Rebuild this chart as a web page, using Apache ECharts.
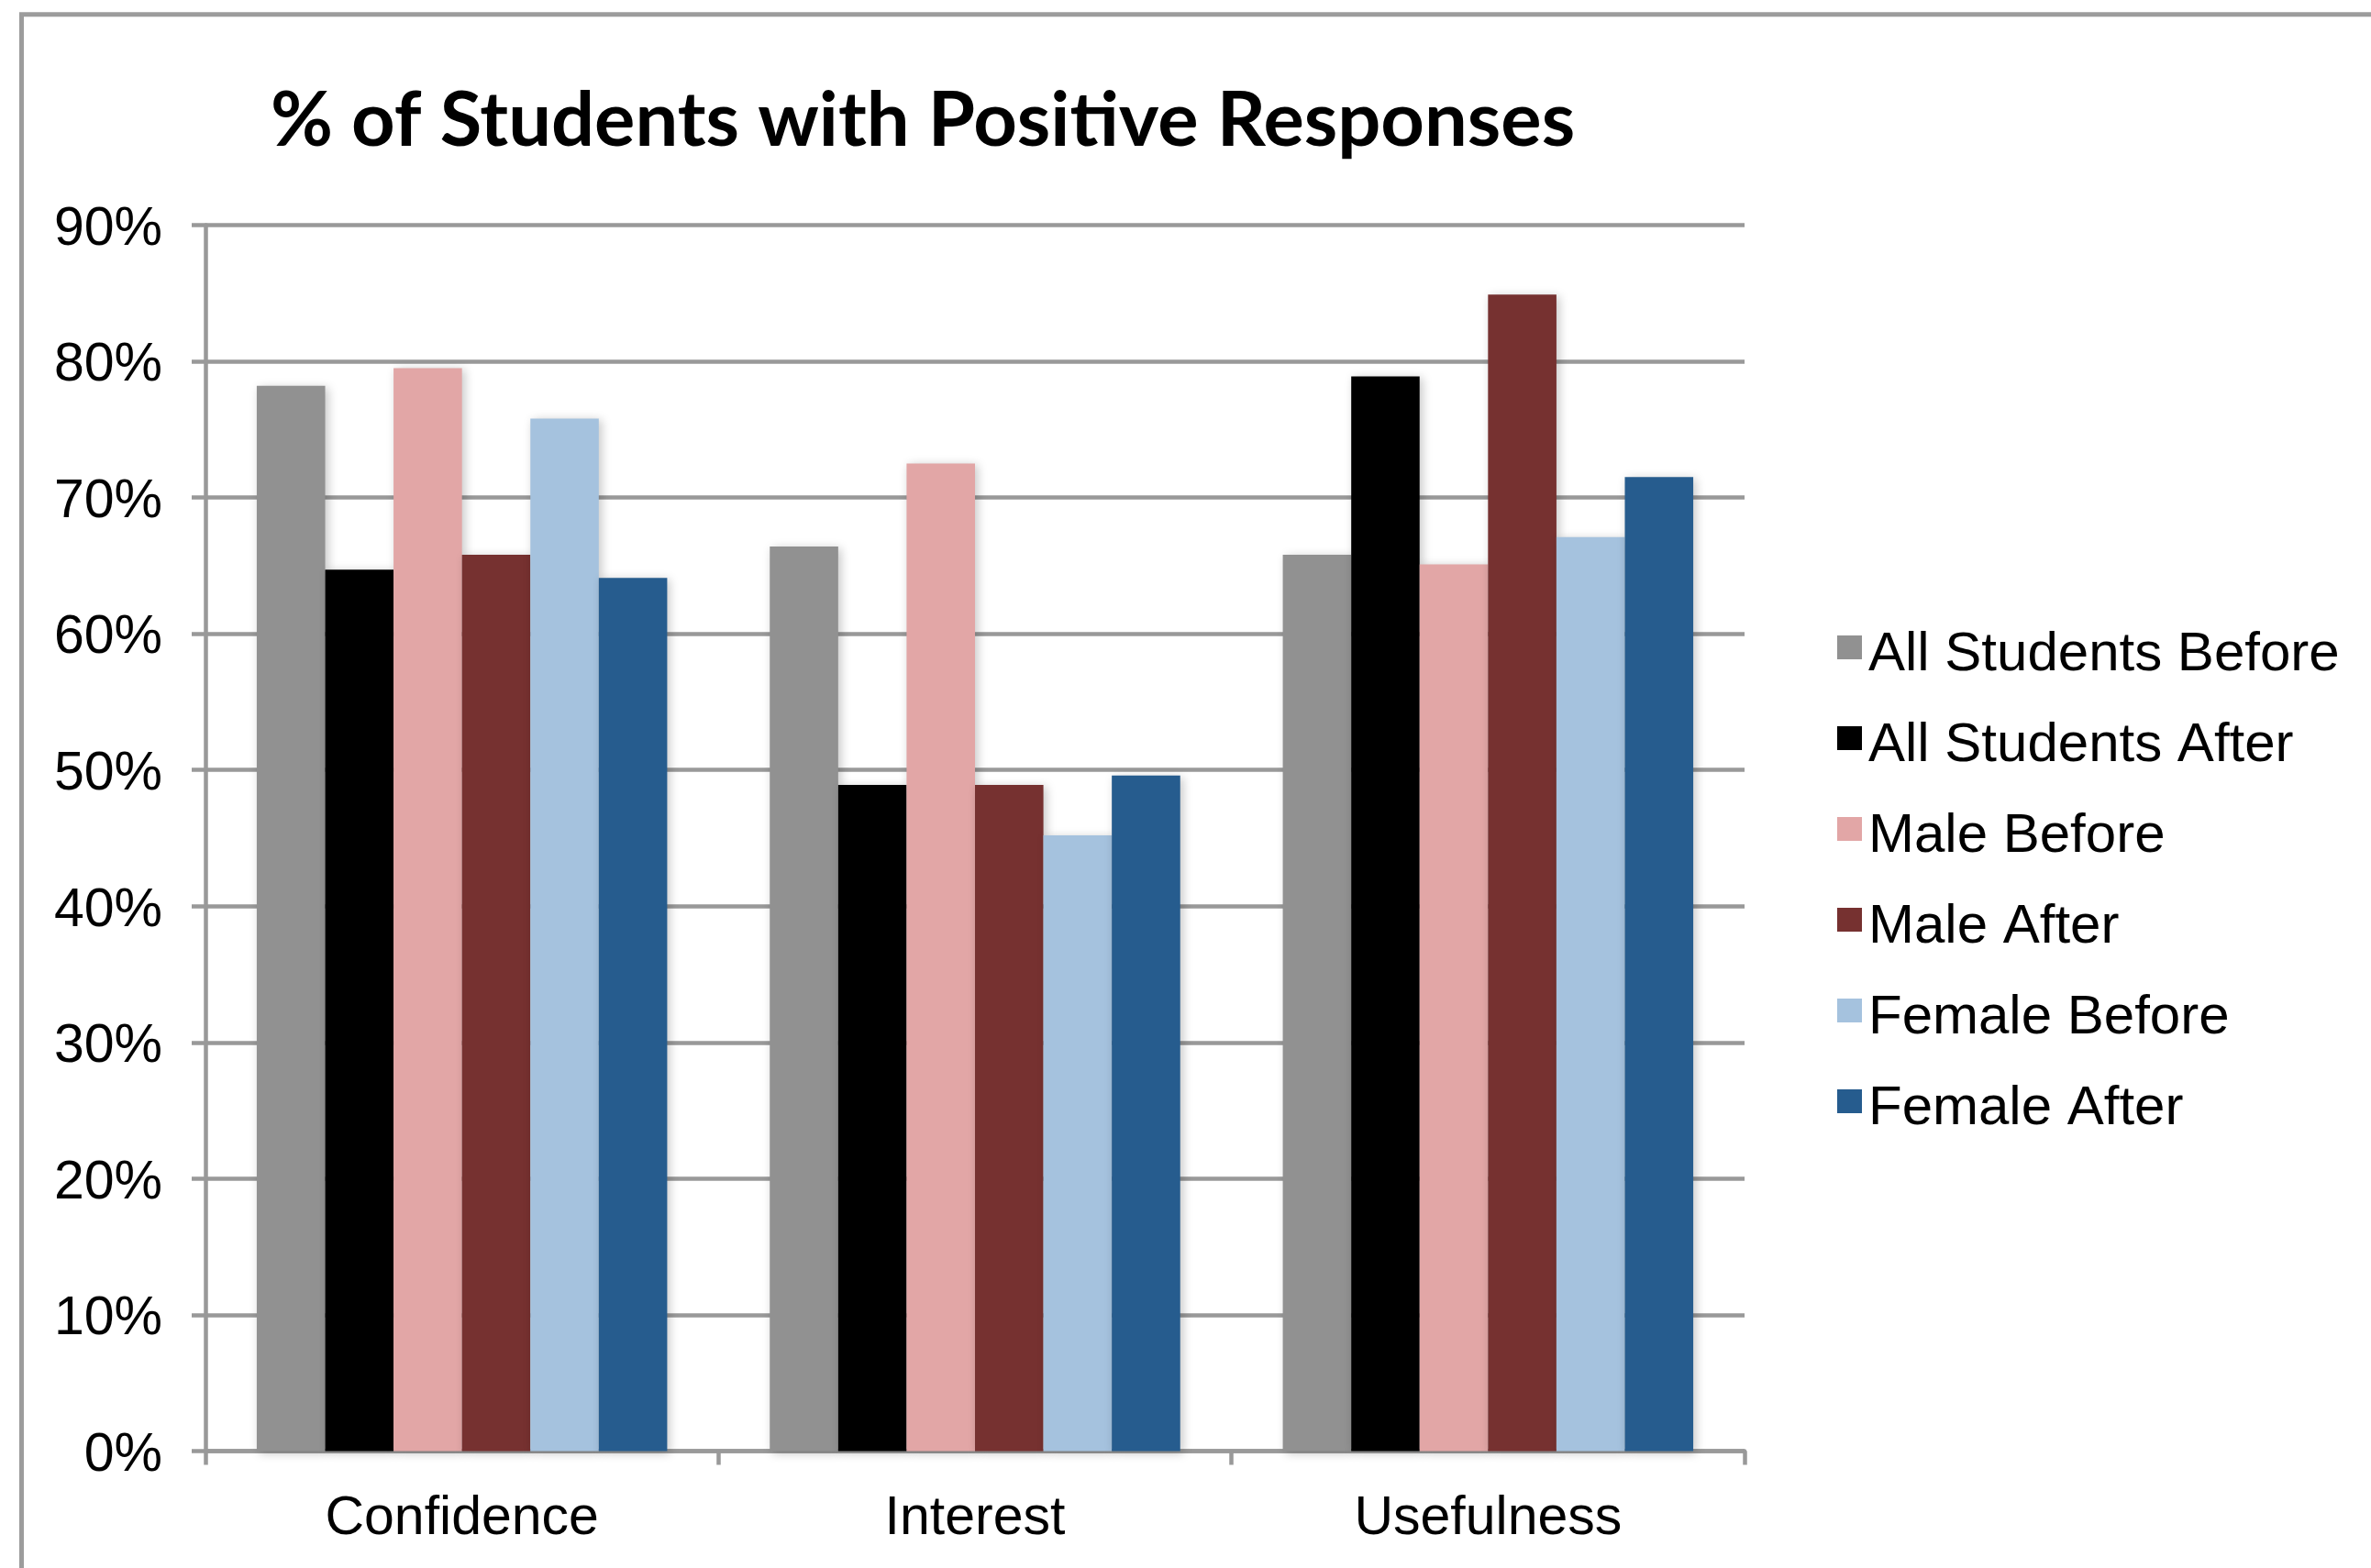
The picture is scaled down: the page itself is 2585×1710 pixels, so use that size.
<!DOCTYPE html>
<html>
<head>
<meta charset="utf-8">
<title>% of Students with Positive Responses</title>
<script src="https://cdn.jsdelivr.net/npm/echarts@6/dist/echarts.min.js"></script>
<style>
  html, body { margin: 0; padding: 0; background: #ffffff; }
  #chart { width: 2585px; height: 1710px; }
</style>
</head>
<body>
<div id="chart"></div>
<script>
// Survey categories and the share of students answering positively (%)
const categories = ['Confidence', 'Interest', 'Usefulness'];
const seriesNames = ['All Students Before', 'All Students After', 'Male Before', 'Male After', 'Female Before', 'Female After'];
const allStudentsBefore = [78.2, 66.4, 65.8];
const allStudentsAfter  = [64.7, 48.9, 78.9];
const maleBefore        = [79.5, 72.5, 65.1];
const maleAfter         = [65.8, 48.9, 84.9];
const femaleBefore      = [75.8, 45.2, 67.1];
const femaleAfter       = [64.1, 49.6, 71.5];
const seriesColors = ['#919191', '#000000', '#e2a6a6', '#763130', '#a5c2de', '#265c8e'];

const seriesValues = [allStudentsBefore, allStudentsAfter, maleBefore, maleAfter, femaleBefore, femaleAfter];

const axisGray = '#999999';
const labelFont = 'Liberation Sans, Arial, Helvetica, sans-serif';

const chart = echarts.init(document.getElementById('chart'), null, { renderer: 'canvas' });

const option = {
  backgroundColor: '#ffffff',
  animation: false,
  title: {
    text: '% of Students with Positive Responses',
    left: 1006,
    top: 91,
    padding: 0,
    textAlign: 'center',
    textStyle: {
      fontFamily: 'Lato, sans-serif',
      fontWeight: 'bold',
      fontSize: 83,
      color: '#000000'
    }
  },
  // The legend swatches sit a little above the middle of their labels,
  // so swatches and labels are laid out as two stacked legends.
  legend: [
    {
      orient: 'vertical',
      left: 1998,
      top: 688,
      itemWidth: 27,
      itemHeight: 26,
      itemGap: 73,
      icon: 'rect',
      selectedMode: false,
      formatter: () => '',
      textStyle: { fontSize: 10, lineHeight: 10 },
      data: seriesNames
    },
    {
      orient: 'vertical',
      left: 1998,
      top: 679,
      itemWidth: 27,
      itemHeight: 26,
      itemGap: 39,
      icon: 'rect',
      selectedMode: false,
      itemStyle: { opacity: 0 },
      textStyle: {
        fontFamily: labelFont,
        fontSize: 60,
        lineHeight: 60,
        color: '#000000',
        padding: [0, 0, 0, 2]
      },
      data: seriesNames
    }
  ],
  grid: {
    left: 224,
    right: 683,
    top: 245.5,
    bottom: 127.5,
    containLabel: false
  },
  xAxis: {
    type: 'category',
    data: categories,
    axisLine: { show: true, lineStyle: { color: axisGray, width: 4.5 } },
    axisTick: { show: true, length: 15, lineStyle: { color: axisGray, width: 4.5 } },
    axisLabel: {
      margin: 45,
      fontFamily: labelFont,
      fontSize: 59,
      color: '#000000'
    },
    splitLine: { show: false }
  },
  yAxis: {
    type: 'value',
    min: 0,
    max: 90,
    interval: 10,
    axisLine: { show: true, lineStyle: { color: axisGray, width: 4.5 } },
    axisTick: { show: true, length: 15, lineStyle: { color: axisGray, width: 4.5 } },
    axisLabel: {
      margin: 47,
      fontFamily: labelFont,
      fontSize: 59,
      color: '#000000',
      // a short top-aligned line box drops each label a few pixels below its tick
      verticalAlign: 'top',
      lineHeight: 10,
      formatter: '{value}%'
    },
    splitLine: { show: true, lineStyle: { color: axisGray, width: 4.5 } }
  },
  graphic: [
    {
      // outer frame of the chart area, running off the right and bottom edges
      type: 'rect',
      silent: true,
      z: -1,
      shape: { x: 23.5, y: 15.8, width: 3000, height: 3000 },
      style: { fill: 'none', stroke: '#9c9c9c', lineWidth: 5 }
    }
  ],
  series: seriesNames.map((name, i) => ({
    name: name,
    type: 'bar',
    data: seriesValues[i],
    barGap: '0%',
    barCategoryGap: '20%',
    itemStyle: {
      color: seriesColors[i],
      shadowBlur: 10,
      shadowColor: 'rgba(0,0,0,0.22)',
      shadowOffsetX: 3,
      shadowOffsetY: 2
    }
  }))
};

chart.setOption(option);
</script>
</body>
</html>
